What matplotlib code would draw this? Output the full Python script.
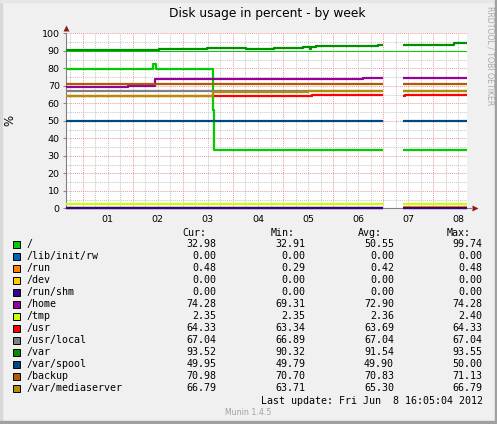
import numpy as np
import matplotlib.pyplot as plt
from matplotlib.patches import Rectangle
from matplotlib.ticker import MultipleLocator, FuncFormatter

nan = np.nan

# hours since day "01" 00:00; graph spans 8 days ending at last update
T_START = -8
T_END = 184

names = ["/", "/lib/init/rw", "/run", "/dev", "/run/shm", "/home", "/tmp", "/usr",
         "/usr/local", "/var", "/var/spool", "/backup", "/var/mediaserver"]
colors = ["#00CC00", "#0066B3", "#FF8000", "#FFCC00", "#330099", "#990099", "#CCFF00",
          "#FF0000", "#808080", "#008F00", "#00487D", "#B35A00", "#B38F00"]

cur = ["32.98", "0.00", "0.48", "0.00", "0.00", "74.28", "2.35", "64.33", "67.04", "93.52", "49.95", "70.98", "66.79"]
mins = ["32.91", "0.00", "0.29", "0.00", "0.00", "69.31", "2.35", "63.34", "66.89", "90.32", "49.79", "70.70", "63.71"]
avgs = ["50.55", "0.00", "0.42", "0.00", "0.00", "72.90", "2.36", "63.69", "67.04", "91.54", "49.90", "70.83", "65.30"]
maxs = ["99.74", "0.00", "0.48", "0.00", "0.00", "74.28", "2.40", "64.33", "67.04", "93.55", "50.00", "71.13", "66.79"]

# step series: change times (hours) and values, nan = no data
t_root = [T_START, 33.9, 35, 62.2, 62.8, 144, 153.4, T_END]
v_root = [79.4, 82.6, 79.4, 56.0, 33.3, nan, 33.3, 33.3]
t_flat = [T_START, 144, 153.4, T_END]
v_initrw = [0.0, nan, 0.0, 0.0]
v_run = [0.42, nan, 0.48, 0.48]
v_dev = [0.0, nan, 0.0, 0.0]
v_shm = [0.0, nan, 0.0, 0.0]
t_home = [T_START, 21.9, 34.7, 134.4, 144, 153.4, T_END]
v_home = [69.5, 70.1, 73.7, 74.28, nan, 74.28, 74.28]
v_tmp = [2.4, nan, 2.35, 2.35]
t_usr = [T_START, 110, 144, 153.4, 154.4, T_END]
v_usr = [63.9, 64.6, nan, 63.9, 64.6, 64.6]
v_usrlocal = [67.04, nan, 67.04, 67.04]
t_var = [T_START, 36.6, 59.5, 78.4, 91.5, 105.6, 108.9, 109.6, 112, 141.7, 144, 153.4, 177.7, T_END]
v_var = [90.5, 91.2, 91.8, 91.0, 91.8, 92.3, 91.2, 92.1, 92.9, 93.5, nan, 93.5, 94.2, 94.2]
v_spool = [49.95, nan, 49.95, 49.95]
v_backup = [70.98, nan, 70.98, 70.98]
t_media = [T_START, 62.2, 108.1, 144, 153.4, T_END]
v_media = [64.0, 66.2, 66.79, nan, 66.79, 66.79]
rule_level = 89.8

series = [(t_root, v_root), (t_flat, v_initrw), (t_flat, v_run), (t_flat, v_dev),
          (t_flat, v_shm), (t_home, v_home), (t_flat, v_tmp), (t_usr, v_usr),
          (t_flat, v_usrlocal), (t_var, v_var), (t_flat, v_spool), (t_flat, v_backup),
          (t_media, v_media)]

W, H = 497, 424
fig = plt.figure(figsize=(W / 100, H / 100), dpi=100, facecolor="#F0F0F0")


def fx(x):
    return x / W


def fy(y):
    return 1 - y / H


# 3d-ish frame
fig.patches.append(Rectangle((0, 0), fx(2), 1, transform=fig.transFigure, color="#D8D8D8", zorder=0))
fig.patches.append(Rectangle((0, fy(2)), 1, 2 / H, transform=fig.transFigure, color="#E6E6E6", zorder=0))
fig.patches.append(Rectangle((fx(W - 2), 0), fx(2), 1, transform=fig.transFigure, color="#A0A0A0", zorder=0))
fig.patches.append(Rectangle((0, 0), 1, 3 / H, transform=fig.transFigure, color="#A0A0A0", zorder=0))

left, right, top, bottom = 66, 466.7, 33.3, 208.3
ax = fig.add_axes([fx(left), fy(bottom), fx(right - left), (bottom - top) / H])
ax.set_facecolor("white")
ax.set_xlim(T_START, T_END)
ax.set_ylim(0, 100)

# grid
ax.xaxis.set_major_locator(MultipleLocator(24))
ax.xaxis.set_minor_locator(MultipleLocator(6))
ax.yaxis.set_major_locator(MultipleLocator(10))
ax.yaxis.set_minor_locator(MultipleLocator(5))
ax.grid(which="minor", color="#C8C8C8", linestyle=(0, (1, 1)), lw=0.75)
ax.grid(which="major", color="#F29A9A", linestyle=(0, (1, 1)), lw=0.75)
ax.set_axisbelow(True)

ax.xaxis.set_major_formatter(FuncFormatter(lambda h, p: ""))
ax.xaxis.set_minor_formatter(FuncFormatter(lambda h, p: "%02d" % (int(h) // 24 + 1) if int(round(h)) % 24 == 12 else ""))
ax.tick_params(axis="x", which="both", length=0, pad=4.5, labelsize=6.8)
ax.tick_params(axis="y", which="major", length=2, color="#888888", pad=2.5, labelsize=6.8)
ax.tick_params(axis="y", which="minor", length=0)

for s in ["top", "right"]:
    ax.spines[s].set_visible(False)
ax.spines["left"].set_color("#808080")
ax.spines["bottom"].set_color("#808080")
ax.spines["left"].set_linewidth(0.8)
ax.spines["bottom"].set_linewidth(0.8)
ax.spines["bottom"].set_bounds(T_START, T_END + 2.2)
ax.spines["bottom"].set_clip_on(False)

# axis arrows
ax.plot([1.02], [0], marker=">", ms=4, color="#8B1A1A", transform=ax.transAxes, clip_on=False, mec="none")
ax.plot([0], [1.028], marker="^", ms=4, color="#8B1A1A", transform=ax.transAxes, clip_on=False, mec="none")

ax.axhline(rule_level, color="#00CC00", lw=0.75, zorder=2)
for (t, v), c in zip(series, colors):
    ax.step(t, v, where="post", color=c, lw=1.6, zorder=3, solid_capstyle="butt", clip_on=False)

fig.text(fx(10), fy(120), "%", rotation=90, ha="center", va="center", fontsize=8.5)

fig.text(fx(267), fy(13), "Disk usage in percent - by week", ha="center", va="center", fontsize=8.8)
fig.text(fx(490), fy(6), "RRDTOOL / TOBI OETIKER", rotation=270, ha="center", va="top",
         fontsize=5.6, color="#A8A8A8")

# legend table
mono = "DejaVu Sans Mono"
fs = 7.2
col_right = [216.7, 305.7, 394, 482.7]
for x, lab in zip([182, 271, 358, 447], ["Cur:", "Min:", "Avg:", "Max:"]):
    fig.text(fx(x), fy(233.3), lab, family=mono, fontsize=fs, va="center", ha="left")
for i, name in enumerate(names):
    y = 244.3 + 12 * i
    fig.patches.append(Rectangle((fx(13.3), fy(y + 3.5)), 6.5 / W, 6.5 / H, transform=fig.transFigure,
                                 facecolor=colors[i], edgecolor="black", lw=0.7))
    fig.text(fx(26.7), fy(y), name, family=mono, fontsize=fs, va="center", ha="left")
    for xr, vals in zip(col_right, [cur, mins, avgs, maxs]):
        fig.text(fx(xr), fy(y), vals[i], family=mono, fontsize=fs, va="center", ha="right")

fig.text(fx(482.7), fy(400.7), "Last update: Fri Jun  8 16:05:04 2012", family=mono, fontsize=fs,
         va="center", ha="right")
fig.text(fx(248), fy(412.7), "Munin 1.4.5", fontsize=5.6, color="#A0A0A0", va="center", ha="center")

fig.savefig("out.png", dpi=100, facecolor=fig.get_facecolor())
